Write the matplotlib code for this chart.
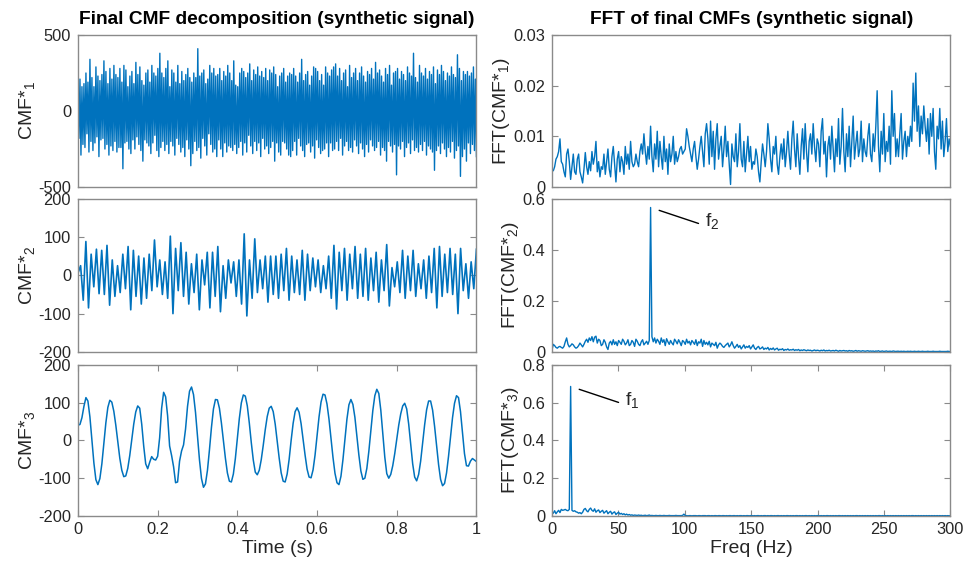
import numpy as np
import matplotlib
matplotlib.use('Agg')
import matplotlib.pyplot as plt

plt.rcParams['font.family'] = ['Liberation Sans', 'DejaVu Sans']
plt.rcParams['mathtext.fontset'] = 'custom'
plt.rcParams['mathtext.rm'] = 'Liberation Sans'
plt.rcParams['mathtext.it'] = 'Liberation Sans:italic'
plt.rcParams['mathtext.bf'] = 'Liberation Sans:bold'
plt.rcParams['axes.unicode_minus'] = False

# ---------------- data ----------------
cmf1 = [
    270, -180, 210, -290, 160, -220, 180, -240, 250, -150, 190, -270, 340, -200, 220, -260, 160, -210, 290, -170,
    230, -300, 200, -190, 240, -180, 330, -250, 260, -220, 180, -290, 280, -230, 210, -260, 300, -200, 240, -270,
    220, -240, 280, -240, 190, -380, 300, -210, 270, -200, 160, -250, 230, -280, 260, -190, 180, -250, 320, -170,
    240, -220, 290, -260, 200, -330, 170, -190, 250, -210, 270, -230, 190, -280, 300, -210, 250, -160, 230, -260,
    280, -300, 380, -240, 250, -200, 220, -260, 280, -220, 330, -280, 160, -200, 270, -230, 250, -290, 190, -180,
    300, -220, 180, -270, 260, -240, 200, -300, 240, -190, 280, -250, 220, -360, 190, -280, 250, -200, 220, -260,
    410, -240, 230, -310, 250, -180, 270, -230, 180, -290, 210, -150, 300, -220, 250, -270, 280, -250, 230, -300,
    240, -190, 280, -250, 200, -300, 260, -210, 230, -270, 300, -230, 250, -240, 200, -260, 330, -220, 170, -280,
    160, -240, 250, -200, 280, -290, 260, -210, 220, -270, 250, -160, 310, -230, 200, -280, 270, -200, 240, -260,
    290, -210, 230, -300, 260, -180, 220, -250, 280, -230, 200, -280, 270, -240, 250, -200, 290, -330, 240, -210,
    160, -270, 230, -290, 250, -200, 280, -210, 190, -250, 230, -290, 250, -300, 240, -260, 280, -200, 230, -290,
    190, -180, 250, -230, 340, -260, 200, -300, 240, -220, 260, -210, 170, -270, 230, -230, 290, -310, 280, -190,
    260, -240, 200, -280, 240, -260, 170, -250, 290, -210, 250, -300, 230, -210, 270, -260, 290, -250, 310, -200,
    230, -260, 280, -180, 200, -290, 250, -230, 270, -200, 160, -260, 300, -240, 220, -270, 250, -190, 280, -230,
    200, -280, 250, -210, 290, -250, 230, -300, 190, -220, 260, -270, 240, -190, 280, -230, 210, -260, 320, -240,
    250, -200, 270, -290, 230, -240, 190, -260, 280, -330, 240, -200, 300, -230, 170, -270, 250, -220, 260, -420,
    280, -230, 210, -250, 260, -200, 240, -300, 200, -240, 290, -210, 250, -280, 230, -190, 380, -260, 220, -240,
    190, -270, 300, -220, 250, -260, 230, -200, 280, -290, 210, -230, 260, -250, 240, -270, 290, -390, 180, -260,
    270, -230, 240, -280, 300, -210, 260, -250, 200, -300, 250, -240, 230, -270, 290, -200, 240, -310, 220, -260,
    370, -230, 280, -430, 200, -300, 260, -250, 240, -330, 260, -210, 230, -280, 250, -220, 290, -260, 210, -300,
]

cmf2 = [
    5,
    25, -65, 88, -85, 55, -30, 68, -48, 65, -50, 78, -78, 40, -55, 25, -45, 55, -35, 75, -90,
    65, -55, 50, -75, 45, -60, 55, -40, 92, -30, 40, -50, 35, -60, 102, -100, 70, -40, 85, -55,
    60, -75, 30, -45, 55, -90, 40, -25, 60, -85, 60, -55, 75, -95, 25, -60, 40, -20, 35, -55,
    40, -75, 108, -106, 40, -60, 95, -45, 40, -35, 50, -70, 50, -50, 50, -60, 55, -40, 70, -65,
    50, -45, 40, -50, 65, -65, 55, -40, 45, -30, 40, -45, 25, -35, 50, -60, 78, -88, 60, -40,
    70, -65, 55, -35, 75, -60, 55, -55, 70, -65, 45, -40, 60, -70, 40, -40, 80, -80, 20, -30,
    35, -45, 65, -60, 50, -40, 65, -55, 30, -35, 40, -60, 50, -45, 70, -85, 75, -55, 55, -45,
    70, -50, 55, -100, 70, -40, 30, -60, 35, -35,
    68,
]

cmf3 = [
    40, 42, 60, 90, 113, 104, 62, 2, -60, -104,
    -117, -101, -62, -8, 46, 87, 106, 101, 77, 40,
    -4, -47, -79, -96, -94, -74, -40, 2, 43, 75,
    91, 85, 43, -15, -62, -75, -58, -43, -50, -52,
    -42, 7, 85, 127, 115, 65, -15, -40, -70, -112,
    -110, -55, -28, -12, 30, 90, 130, 141, 121, 74,
    11, -52, -101, -124, -115, -79, -25, 34, 83, 108,
    107, 85, 46, 0, -47, -86, -108, -110, -89, -48,
    5, 58, 99, 120, 117, 91, 46, -6, -52, -84,
    -91, -79, -51, -13, 28, 63, 85, 90, 76, 43,
    -1, -47, -86, -108, -110, -89, -50, 0, 45, 76,
    86, 74, 44, 3, -39, -76, -97, -99, -78, -39,
    12, 62, 101, 122, 120, 96, 56, 6, -45, -87,
    -112, -117, -95, -51, 4, 56, 94, 108, 95, 61,
    12, -39, -81, -103, -100, -74, -29, 26, 79, 118,
    135, 124, 80, 18, -44, -88, -100, -90, -67, -35,
    3, 40, 70, 91, 98, 83, 43, -10, -62, -97,
    -107, -90, -55, -8, 41, 81, 104, 104, 80, 37,
    -14, -64, -103, -120, -114, -86, -42, 10, 60, 98,
    118, 113, 76, 19, -35, -67, -68, -55, -48, -52,
    -56,
]

# FFT magnitudes, in thousandths
fft1_milli = [
    3.5, 3.2, 4.0, 5.5, 6.0, 7.0, 9.5, 5.0, 4.5, 3.0, 2.0, 6.5, 7.5, 5.0, 1.5, 4.0, 6.5, 3.0, 2.5, 5.5,
    6.5, 3.0, 2.0, 0.8, 3.5, 6.8, 4.0, 2.5, 5.0, 3.2, 7.0, 4.5, 6.0, 9.0, 3.0, 5.0, 2.0, 4.0, 3.5, 6.5,
    2.5, 5.0, 7.5, 3.5, 2.0, 6.0, 8.0, 4.5, 1.0, 5.5, 7.0, 3.0, 6.0, 5.0, 2.5, 8.0, 4.5, 6.5, 3.5, 9.0,
    5.0, 4.0, 4.5, 6.5, 5.0, 4.0, 7.0, 8.5, 6.5, 10.5, 7.0, 4.5, 8.0, 5.5, 12.0, 6.0, 3.0, 8.5, 5.5, 11.0,
    4.0, 9.0, 6.0, 3.5, 10.0, 5.0, 7.5, 2.5, 8.5, 5.0, 6.5, 10.0, 4.5, 7.0, 5.0, 6.0, 7.5, 8.0, 6.5, 7.0,
    7.5, 11.5, 10.0, 8.0, 6.5, 5.0, 7.5, 9.0, 6.0, 3.5, 5.5, 8.0, 10.0, 7.0, 4.0, 10.5, 12.5, 9.5, 4.5, 13.0,
    6.0, 11.0, 3.5, 9.5, 12.5, 5.5, 8.0, 10.0, 4.0, 7.5, 12.0, 6.0, 9.0, 4.5, 0.5, 8.5, 6.0, 5.0, 10.5, 4.0,
    7.0, 12.5, 5.5, 4.0, 9.0, 3.0, 6.5, 10.0, 5.0, 8.0, 3.5, 5.0, 4.5, 7.5, 6.0, 3.0, 1.0, 5.0, 8.5, 6.5,
    4.0, 7.0, 12.5, 9.5, 5.5, 3.0, 8.0, 6.5, 10.0, 4.5, 2.5, 6.0, 8.5, 5.5, 9.5, 4.0, 7.0, 11.0, 6.5, 3.5,
    9.5, 13.0, 7.5, 4.0, 10.5, 6.0, 2.5, 8.0, 11.5, 5.5, 12.5, 7.0, 3.0, 9.0, 10.5, 6.5, 12.5, 8.0, 5.0, 9.5,
    8.5, 4.0, 11.0, 13.5, 6.5, 9.0, 2.0, 8.0, 10.0, 5.5, 12.0, 7.5, 3.0, 9.5, 6.0, 13.5, 4.5, 8.0, 15.5, 7.0,
    3.0, 10.5, 6.0, 12.0, 4.0, 9.0, 14.0, 5.5, 8.5, 11.0, 6.0, 7.5, 13.0, 5.0, 9.5, 7.0, 6.0, 10.0, 12.5, 6.5,
    5.0, 10.5, 7.0, 12.0, 19.0, 8.0, 3.0, 11.0, 6.5, 14.5, 5.0, 9.0, 7.0, 12.0, 4.5, 19.0, 10.0, 14.5, 6.0, 9.5,
    6.0, 10.5, 14.5, 5.5, 9.0, 11.0, 6.0, 10.0, 8.0, 12.0, 9.0, 20.5, 13.0, 22.5, 11.0, 16.0, 8.0, 14.0, 10.5, 16.0,
    12.0, 9.0, 13.5, 6.5, 14.5, 10.0, 15.5, 7.0, 3.5, 12.0, 9.5, 15.5, 7.5, 13.0, 6.0, 9.0, 13.5, 7.0, 9.5, 8.0,
]

fft2_milli = [
    8, 30, 25, 18, 15, 20, 22, 18, 15, 22, 40, 55, 30, 20, 25, 32, 28, 20, 15, 18,
    25, 35, 28, 20, 30, 42, 50, 38, 55, 45, 60, 40, 58, 62, 35, 50, 45, 25, 30, 48,
    38, 20, 10, 35, 42, 28, 48, 30, 40, 25, 45, 38, 30, 50, 42, 28, 35, 48, 25, 30,
    45, 38, 22, 50, 42, 30, 25, 40, 48, 28, 35, 42, 30, 45, 565, 60, 40, 55, 35, 50,
    42, 30, 55, 38, 48, 25, 52, 40, 30, 45, 35, 28, 50, 42, 32, 48, 38, 25, 45, 40,
    30, 50, 35, 42, 28, 45, 38, 30, 48, 25, 40, 35, 50, 22, 45, 30, 38, 28, 42, 20,
    35, 30, 25, 38, 15, 28, 35, 30, 22, 18, 25, 30, 35, 20, 28, 40, 25, 15, 22, 30,
    18, 25, 12, 20, 28, 15, 22, 18, 25, 12, 20, 28, 15, 10, 18, 22, 12, 15, 20, 10,
    15, 12, 18, 8, 14, 10, 16, 8, 12, 15, 7, 11, 9, 13, 6, 10, 8, 12, 7, 9,
    8, 11, 6, 9, 7, 10, 5, 8, 6, 9, 7, 5, 8, 6, 7, 4, 6, 8, 5, 7,
    6, 4, 7, 5, 8, 4, 6, 5, 7, 4, 5, 6, 4, 7, 5, 3, 6, 4, 5, 6,
    4, 5, 3, 6, 4, 5, 3, 4, 6, 3, 5, 4, 3, 5, 4, 3, 4, 5, 3, 4,
    3, 4, 2, 4, 3, 5, 2, 3, 4, 2, 3, 4, 2, 3, 3, 2, 4, 3, 2, 3,
    3, 2, 3, 2, 3, 2, 2, 3, 2, 3, 2, 2, 3, 2, 2, 3, 2, 2, 3, 2,
    2, 2, 3, 2, 2, 2, 3, 2, 2, 2, 2, 3, 2, 2, 2, 2, 2, 3, 2, 2,
]

fft3_milli = [
    20, 15, 28, 12, 22, 30, 18, 35, 30, 32, 35, 30, 28, 35, 685, 30, 25, 28, 22, 20,
    15, 18, 12, 20, 35, 40, 28, 22, 35, 42, 30, 25, 38, 20, 28, 32, 18, 25, 30, 15,
    22, 28, 12, 20, 25, 10, 18, 22, 8, 15, 20, 10, 14, 8, 12, 6, 10, 5, 8, 4,
    6, 3, 5, 4, 3, 5, 3, 4, 2, 3, 4, 2, 3, 5, 2, 3, 2, 2, 3, 2,
    2, 3, 2, 2, 3, 2, 2, 2, 3, 2, 2, 2, 2, 3, 2, 2, 2, 2, 3, 10,
    2, 2, 1, 2, 2, 1, 2, 2, 2, 1, 2, 2, 1, 2, 2, 2, 1, 2, 2, 1,
    2, 1, 2, 2, 1, 2, 2, 1, 2, 2, 1, 2, 1, 2, 2, 1, 2, 2, 1, 2,
    1, 2, 2, 1, 2, 1, 2, 2, 1, 2, 2, 1, 2, 1, 2, 2, 1, 2, 1, 2,
    2, 1, 2, 1, 2, 2, 1, 2, 1, 2, 2, 1, 2, 1, 2, 1, 2, 2, 1, 2,
    1, 2, 1, 2, 2, 1, 2, 1, 2, 1, 2, 2, 1, 2, 1, 2, 1, 2, 1, 2,
    2, 1, 2, 1, 2, 1, 2, 2, 1, 2, 1, 2, 1, 2, 1, 2, 2, 1, 2, 1,
    2, 1, 2, 1, 2, 1, 2, 1, 2, 2, 1, 2, 1, 2, 1, 2, 1, 2, 1, 2,
    1, 2, 1, 2, 1, 2, 2, 1, 2, 1, 2, 1, 2, 1, 2, 1, 2, 1, 2, 1,
    2, 1, 2, 1, 2, 1, 2, 1, 2, 1, 2, 2, 1, 2, 1, 2, 1, 2, 1, 2,
    1, 2, 1, 2, 1, 2, 1, 2, 1, 2, 1, 2, 1, 2, 1, 2, 1, 2, 1, 2,
]

time_ticks = [0, 0.2, 0.4, 0.6, 0.8, 1]
time_ticklabels = ['0', '0.2', '0.4', '0.6', '0.8', '1']
freq_ticks = [0, 50, 100, 150, 200, 250, 300]
left_ylims = [(-500, 500), (-200, 200), (-200, 200)]
left_yticks = [[-500, 0, 500], [-200, -100, 0, 100, 200], [-200, -100, 0, 100, 200]]
right_ylims = [(0, 0.03), (0, 0.6), (0, 0.8)]
right_yticks = [[0, 0.01, 0.02, 0.03], [0, 0.2, 0.4, 0.6], [0, 0.2, 0.4, 0.6, 0.8]]
right_yticklabels = [['0', '0.01', '0.02', '0.03'], ['0', '0.2', '0.4', '0.6'],
                     ['0', '0.2', '0.4', '0.6', '0.8']]

# ---------------- figure ----------------
BLUE = '#0072BD'
SPINE = '#8a8a8a'
TXT = '#262626'
TICK_FS = 11.8
LABEL_FS = 14
TITLE_FS = 13.8

fig = plt.figure(figsize=(9.66, 5.71), dpi=100)

xl, xr, w = 0.0807, 0.5714, 0.4125
rows = [(0.6725, 0.2662), (0.3835, 0.2688), (0.0963, 0.2650)]

sigs = [cmf1, cmf2, cmf3]
sig_lw = [1.0, 1.2, 1.1]
ffts = [fft1_milli, fft2_milli, fft3_milli]


def style(ax, bottom_row):
    for s in ax.spines.values():
        s.set_color(SPINE)
        s.set_linewidth(1.0)
    ax.tick_params(direction='in', length=4, width=0.8, color=SPINE,
                   labelcolor=TXT, labelsize=TICK_FS, top=bottom_row, right=True,
                   bottom=bottom_row, labelbottom=bottom_row)
    ax.tick_params(axis='y', pad=5)
    ax.tick_params(axis='x', pad=4.5)


for i in range(3):
    b, h = rows[i]
    # left: time series
    ax = fig.add_axes([xl, b, w, h])
    y = np.array(sigs[i], dtype=float)
    t = np.linspace(0, 1, len(y))
    ax.plot(t, y, color=BLUE, lw=sig_lw[i])
    ax.set_xlim(0, 1)
    ax.set_ylim(*left_ylims[i])
    ax.set_yticks(left_yticks[i])
    if i == 2:
        ax.set_xticks(time_ticks)
        ax.set_xticklabels(time_ticklabels)
        ax.set_xlabel('Time (s)', fontsize=LABEL_FS, color=TXT, labelpad=2)
    else:
        ax.set_xticks([])
    style(ax, i == 2)
    ax.set_ylabel('CMF*$_{%d}$' % (i + 1), fontsize=LABEL_FS, color=TXT, labelpad=1)
    if i == 0:
        ax.set_title('Final CMF decomposition (synthetic signal)', fontsize=TITLE_FS,
                     fontweight='bold', color='k', pad=8)

    # right: spectra
    ax2 = fig.add_axes([xr, b, w, h])
    m = np.array(ffts[i], dtype=float) * 1e-3
    f = np.linspace(0, 300, len(m))
    ax2.plot(f, m, color=BLUE, lw=1.0)
    ax2.set_xlim(0, 300)
    ax2.set_ylim(*right_ylims[i])
    ax2.set_yticks(right_yticks[i])
    ax2.set_yticklabels(right_yticklabels[i])
    if i == 2:
        ax2.set_xticks(freq_ticks)
        ax2.set_xlabel('Freq (Hz)', fontsize=LABEL_FS, color=TXT, labelpad=2)
    else:
        ax2.set_xticks([])
    style(ax2, i == 2)
    ax2.set_ylabel('FFT(CMF*$_{%d}$)' % (i + 1), fontsize=LABEL_FS, color=TXT, labelpad=1)
    if i == 0:
        ax2.set_title('FFT of final CMFs (synthetic signal)', fontsize=TITLE_FS,
                      fontweight='bold', color='k', pad=8)
    if i > 0:
        k = int(np.argmax(m))
        name = 'f$_{%d}$' % (3 - i)
        ax2.annotate('', xy=(f[k], m[k]), xytext=(34.5, -11.5), textcoords='offset points',
                     arrowprops=dict(arrowstyle='-', color='k', lw=1.0,
                                     shrinkA=0, shrinkB=6.5))
        ax2.annotate(name, xy=(f[k], m[k]), xytext=(39, -10), textcoords='offset points',
                     ha='left', va='center', fontsize=LABEL_FS, color=TXT)

fig.savefig('out.png', dpi=100)
